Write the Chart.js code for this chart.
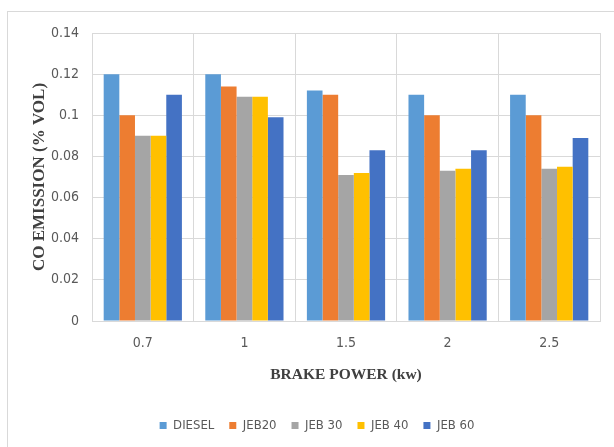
<!DOCTYPE html>
<html>
<head>
<meta charset="utf-8">
<script src="https://cdn.jsdelivr.net/npm/chart.js@4"></script>
<style>
  html, body { margin: 0; padding: 0; background: #ffffff; overflow: hidden; }
  #wrap { position: relative; width: 614px; height: 447px; overflow: hidden; }
  #frame { position: absolute; left: 7px; top: 11px; width: 700px; height: 500px; border: 1px solid #d9d9d9; box-sizing: border-box; }
  #chart { position: absolute; left: 0; top: 0; }
</style>
</head>
<body>
<div id="wrap">
  <div id="frame"></div>
  <canvas id="chart" width="614" height="447"></canvas>
</div>
<script>
// Brake power levels (kW) on the category axis
const brakePower = ['0.7', '1', '1.5', '2', '2.5'];

// CO emission (% vol) per fuel blend
const diesel = [0.12, 0.12, 0.112, 0.11, 0.11];
const jeb20  = [0.10, 0.114, 0.11, 0.10, 0.10];
const jeb30  = [0.09, 0.109, 0.071, 0.073, 0.074];
const jeb40  = [0.09, 0.109, 0.072, 0.074, 0.075];
const jeb60  = [0.11, 0.099, 0.083, 0.083, 0.089];

// Y-axis tick values
const yTicks = [0, 0.02, 0.04, 0.06, 0.08, 0.1, 0.12, 0.14];

const narrow = "'Liberation Sans Narrow', 'Arial Narrow', 'DejaVu Sans Condensed', sans-serif";
const serif = "'Liberation Serif', 'Times New Roman', serif";
const gridColor = '#d9d9d9';
const textColor = '#595959';

const series = [
  { label: 'DIESEL', data: diesel, color: '#5b9bd5' },
  { label: 'JEB20',  data: jeb20,  color: '#ed7d31' },
  { label: 'JEB 30', data: jeb30,  color: '#a5a5a5' },
  { label: 'JEB 40', data: jeb40,  color: '#ffc000' },
  { label: 'JEB 60', data: jeb60,  color: '#4472c4' }
];

new Chart(document.getElementById('chart'), {
  type: 'bar',
  data: {
    labels: brakePower,
    datasets: series.map(s => ({
      label: s.label,
      data: s.data,
      backgroundColor: s.color,
      borderWidth: 0,
      categoryPercentage: 0.77,
      barPercentage: 1.0
    }))
  },
  options: {
    responsive: false,
    animation: false,
    devicePixelRatio: 1,
    layout: { padding: { left: 34, right: 14, top: 33, bottom: 5 } },
    plugins: {
      tooltip: { enabled: false },
      legend: {
        position: 'bottom',
        labels: {
          boxWidth: 7,
          boxHeight: 7,
          padding: 15,
          color: textColor,
          font: { family: narrow, size: 13 }
        }
      }
    },
    scales: {
      x: {
        grid: { color: gridColor, offset: true, drawTicks: false, lineWidth: 1 },
        border: { color: gridColor },
        ticks: { color: textColor, padding: 14, font: { family: narrow, size: 14 } },
        title: {
          display: true,
          text: 'BRAKE POWER (kw)',
          color: '#404040',
          font: { family: serif, size: 15.5, weight: 'bold' },
          padding: { top: 0, bottom: 20 }
        },
        afterFit: (scale) => { scale.height = 83; }
      },
      y: {
        min: 0,
        max: 0.14,
        afterBuildTicks: (scale) => { scale.ticks = yTicks.map(v => ({ value: v })); },
        grid: { color: gridColor, drawTicks: false, lineWidth: 1 },
        border: { display: false },
        ticks: {
          color: textColor,
          padding: 13,
          font: { family: narrow, size: 14 },
          callback: (v) => String(Math.round(v * 100) / 100)
        },
        title: {
          display: true,
          text: 'CO EMISSION (% VOL)',
          color: '#404040',
          font: { family: serif, size: 17, weight: 'bold' },
          padding: { top: -5, bottom: 0 }
        },
        afterFit: (scale) => { scale.width = 58; }
      }
    }
  }
});
</script>
</body>
</html>
